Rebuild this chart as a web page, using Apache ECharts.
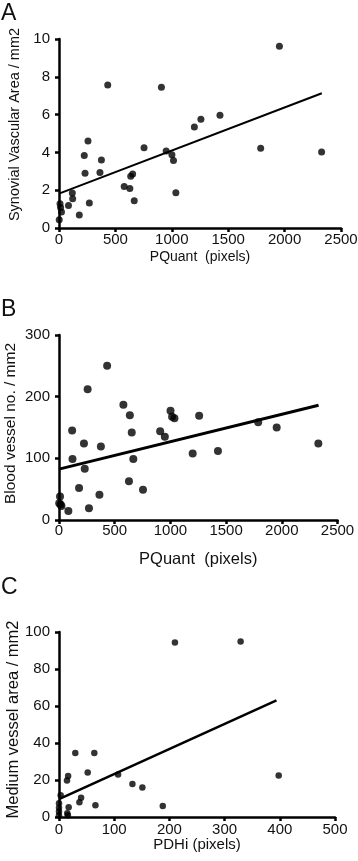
<!DOCTYPE html>
<html>
<head>
<meta charset="utf-8">
<title>PQuant / PDHi correlations</title>
<script src="https://cdn.jsdelivr.net/npm/echarts@6.0.0/dist/echarts.min.js"></script>
<style>
  html, body { margin: 0; padding: 0; background: #fff; }
  #main { width: 358px; height: 861px; }
</style>
</head>
<body>
<div id="main"></div>
<script>
// PQuant (pixels) - shared by panel A and B
var pquant = [2, 9, 14, 22, 84, 118, 121, 180, 224, 231, 257, 269, 363, 376, 432, 578,
  628, 636, 653, 667, 754, 908, 950, 1001, 1015, 1036, 1200, 1258, 1427, 1788, 1954, 2328];
// panel A: synovial vascular area / mm2
var synovialArea = [0.44, 1.28, 1.09, 0.85, 1.19, 1.85, 1.55, 0.69, 3.83, 2.9, 4.6, 1.32, 2.93, 3.6, 7.57, 2.2,
  2.09, 2.74, 2.86, 1.44, 4.24, 7.45, 4.08, 3.87, 3.57, 1.86, 5.34, 5.75, 5.96, 4.22, 9.62, 4.02];
// panel B: blood vessel no. / mm2
var vesselNo = [27, 38, 25, 22.7, 14.6, 145, 99, 52, 124, 83, 212, 19, 41, 119, 250, 187,
  63, 170, 142, 99, 49, 144, 135, 177, 167.5, 165, 108, 169, 112, 158.4, 150, 124];
// panel C: PDHi (pixels) vs medium vessel area / mm2
var pdhi = [0, 0, 0, 0, 3, 15, 16, 17.5, 14.5, 16.5, 29.5, 37, 40, 52, 64, 66, 107, 133, 151, 188, 210, 329, 398];
var mediumArea = [0.9, 3, 5, 7.5, 11.7, 2, 1, 5.3, 19.7, 22.2, 34.6, 8, 10.4, 24, 34.6, 6.4, 23, 17.8, 16, 5.9, 94.3, 94.8, 22.4];

// linear fits (start / end of the drawn line)
var fitA = [[0, 1.82], [2330, 7.13]];
var fitB = [[0, 82.5], [2330, 186]];
var fitC = [[0, 9.7], [394, 63]];

// tick ranges
var ticksA = { xMax: 2500, xStep: 500, yMax: 10, yStep: 2 };
var ticksB = { xMax: 2500, xStep: 500, yMax: 300, yStep: 100 };
var ticksC = { xMax: 500, xStep: 100, yMax: 100, yStep: 20 };

function pairs(xs, ys) {
  var out = [];
  for (var i = 0; i < xs.length; i++) out.push([xs[i], ys[i]]);
  return out;
}

var FONT = 'Liberation Sans';

function xAxisOf(idx, t, name, nameSize, gap, lblMargin) {
  return {
    gridIndex: idx, type: 'value', min: 0, max: t.xMax, interval: t.xStep,
    name: name, nameLocation: 'middle', nameGap: gap, nameMoveOverlap: false,
    nameTextStyle: { color: '#111', fontSize: nameSize, fontFamily: FONT },
    axisLine: { show: true, onZero: false, lineStyle: { color: '#000', width: 2.5 } },
    axisTick: { show: true, length: 4, lineStyle: { color: '#000', width: 2.5 } },
    axisLabel: { color: '#111', fontSize: 15, fontFamily: FONT, margin: lblMargin,
      formatter: function (v) { return String(v); } },
    splitLine: { show: false }
  };
}
function yAxisOf(idx, t, name, nameSize, gap, pad) {
  return {
    gridIndex: idx, type: 'value', min: 0, max: t.yMax, interval: t.yStep,
    name: name, nameLocation: 'middle', nameGap: gap, nameMoveOverlap: false,
    nameTextStyle: { color: '#111', fontSize: nameSize, fontFamily: FONT, padding: [0, 0, 0, pad] },
    axisLine: { show: true, onZero: false, lineStyle: { color: '#000', width: 2.5 } },
    axisTick: { show: true, length: 4, lineStyle: { color: '#000', width: 2.5 } },
    axisLabel: { color: '#111', fontSize: 15, fontFamily: FONT, margin: 9,
      formatter: function (v) { return String(v); } },
    splitLine: { show: false }
  };
}
function dots(idx, data, size) {
  return {
    type: 'scatter', xAxisIndex: idx, yAxisIndex: idx, data: data,
    symbolSize: size, itemStyle: { color: '#000' }, clip: false, z: 3
  };
}
function fitLine(idx, data, w) {
  return {
    type: 'line', xAxisIndex: idx, yAxisIndex: idx, data: data,
    symbol: 'none', lineStyle: { color: '#000', width: w }, z: 2
  };
}

var dom = document.getElementById('main');
var myChart = echarts.init(dom, null, { renderer: 'canvas' });

var option = {
  animation: false,
  backgroundColor: '#fff',
  textStyle: { fontFamily: FONT },
  grid: [
    { left: 59, top: 39, width: 282, height: 189, outerBoundsMode: 'none', containLabel: false },
    { left: 59, top: 335, width: 278.5, height: 185, outerBoundsMode: 'none', containLabel: false },
    { left: 59, top: 632, width: 276, height: 185, outerBoundsMode: 'none', containLabel: false }
  ],
  xAxis: [
    xAxisOf(0, ticksA, 'PQuant  (pixels)', 14, 22, 4),
    xAxisOf(1, ticksB, 'PQuant  (pixels)', 16.5, 31, 3),
    xAxisOf(2, ticksC, 'PDHi (pixels)', 15, 20, 5)
  ],
  yAxis: [
    yAxisOf(0, ticksA, 'Synovial Vascular Area / mm2', 14.5, 37, 18),
    yAxisOf(1, ticksB, 'Blood vessel no. / mm2', 15.5, 40, 8),
    yAxisOf(2, ticksC, 'Medium vessel area / mm2', 16.5, 37, 10)
  ],
  graphic: [
    { type: 'text', x: 1, y: 13.5, style: { text: 'A', font: '23px ' + FONT, fill: '#111', verticalAlign: 'middle' } },
    { type: 'text', x: 1, y: 310, style: { text: 'B', font: '23px ' + FONT, fill: '#111', verticalAlign: 'middle' } },
    { type: 'text', x: 1, y: 588, style: { text: 'C', font: '23px ' + FONT, fill: '#111', verticalAlign: 'middle' } }
  ],
  series: [
    fitLine(0, fitA, 2),
    dots(0, pairs(pquant, synovialArea), 7),
    fitLine(1, fitB, 3),
    dots(1, pairs(pquant, vesselNo), 8),
    fitLine(2, fitC, 2.5),
    dots(2, pairs(pdhi, mediumArea), 6.5)
  ]
};

myChart.setOption(option, true);
</script>
</body>
</html>
